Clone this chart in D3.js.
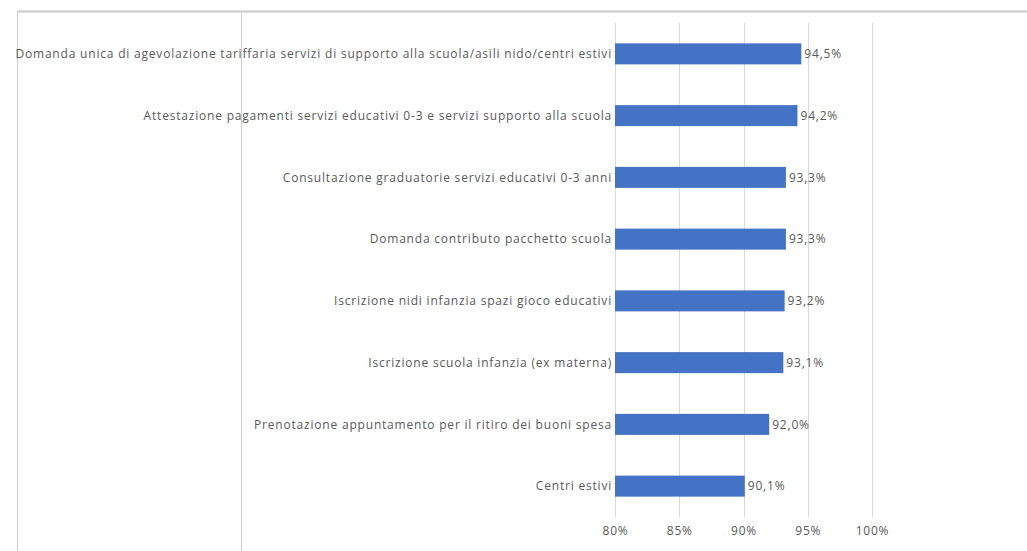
<!DOCTYPE html>
<html><head><meta charset="utf-8">
<script src="https://cdn.jsdelivr.net/npm/d3@7"></script>
<style>body{margin:0;background:#fff;} svg{display:block;}</style>
</head><body>
<svg id="c" width="1027" height="551"></svg>
<script>
const categories = [
  "Domanda unica di agevolazione tariffaria servizi di supporto alla scuola/asili nido/centri estivi",
  "Attestazione pagamenti servizi educativi 0-3 e servizi supporto alla scuola",
  "Consultazione graduatorie servizi educativi 0-3 anni",
  "Domanda contributo pacchetto scuola",
  "Iscrizione nidi infanzia spazi gioco educativi",
  "Iscrizione scuola infanzia (ex materna)",
  "Prenotazione appuntamento per il ritiro dei buoni spesa",
  "Centri estivi"
];
const values = [94.5, 94.2, 93.3, 93.3, 93.2, 93.1, 92.0, 90.1];
const tickValues = [80, 85, 90, 95, 100];

const svg = d3.select("#c");
const font = "'Open Sans', sans-serif";
const ls = "0.8px";
const x = d3.scaleLinear().domain([80, 100]).range([615, 872]);
const y = d3.scaleBand().domain(categories).range([23, 517]).paddingInner(0.66).paddingOuter(0.33);

// frame
svg.append("line").attr("x1",17).attr("x2",1027).attr("y1",11.5).attr("y2",11.5).attr("stroke","#c8c8c8").attr("stroke-width",2);
svg.append("line").attr("x1",17.5).attr("x2",17.5).attr("y1",11).attr("y2",551).attr("stroke","#d0d0d0");
svg.append("line").attr("x1",241.5).attr("x2",241.5).attr("y1",11).attr("y2",551).attr("stroke","#d0d0d0");

// gridlines
svg.append("g").selectAll("line").data(tickValues).join("line")
  .attr("x1",d=>Math.round(x(d))+0.5).attr("x2",d=>Math.round(x(d))+0.5)
  .attr("y1",23).attr("y2",517).attr("stroke","#d9d9d9").attr("stroke-width",1);

// x axis labels
const xa = svg.append("g").attr("transform","translate(0,531)")
  .call(d3.axisBottom(x).tickValues(tickValues).tickFormat(d=>d+"%").tickSize(0));
xa.select(".domain").remove();
xa.selectAll("text").attr("font-family",font).attr("font-size",12).attr("fill","#595959")
  .attr("dy","0.1em").style("letter-spacing",ls);

// bars
svg.append("g").selectAll("rect").data(values).join("rect")
  .attr("x",x(80)).attr("y",(d,i)=>y(categories[i]))
  .attr("width",d=>x(d)-x(80)).attr("height",y.bandwidth())
  .attr("fill","#4472C4");

// category labels
svg.append("g").selectAll("text").data(categories).join("text")
  .attr("x",x(80)-3).attr("y",d=>y(d)+y.bandwidth()/2).attr("dy","0.35em")
  .attr("text-anchor","end").attr("font-family",font).attr("font-size",12)
  .attr("fill","#595959").style("letter-spacing",ls).text(d=>d);

// value labels
svg.append("g").selectAll("text").data(values).join("text")
  .attr("x",d=>x(d)+3).attr("y",(d,i)=>y(categories[i])+y.bandwidth()/2).attr("dy","0.35em")
  .attr("font-family",font).attr("font-size",12).attr("fill","#595959").style("letter-spacing",ls)
  .text(d=>d.toFixed(1).replace(".",",")+"%");
</script>
</body></html>
